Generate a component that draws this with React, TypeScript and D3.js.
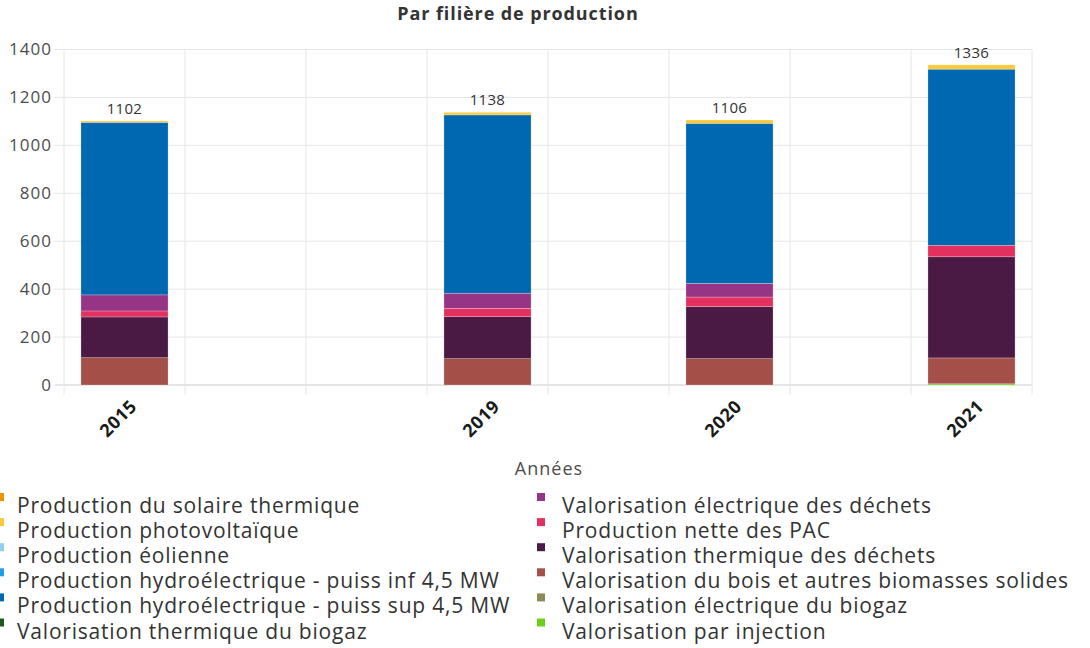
import React from "react";
import * as d3 from "d3";

// Catégories (certaines colonnes sont vides dans l'original)
const categories = ["2015", "", "", "2019", "", "2020", "", "2021"];

// Séries, dans l'ordre de la légende (la première est en haut de la pile)
const seriesNames = [
  "Production du solaire thermique",
  "Production photovoltaïque",
  "Production éolienne",
  "Production hydroélectrique - puiss inf 4,5 MW",
  "Production hydroélectrique - puiss sup 4,5 MW",
  "Valorisation thermique du biogaz",
  "Valorisation électrique des déchets",
  "Production nette des PAC",
  "Valorisation thermique des déchets",
  "Valorisation du bois et autres biomasses solides",
  "Valorisation électrique du biogaz",
  "Valorisation par injection",
];

const seriesColors = [
  "#f39200",
  "#fcc93a",
  "#8fd0f0",
  "#1e9fe8",
  "#0068b0",
  "#1b5a1c",
  "#963585",
  "#e3305f",
  "#4a1a45",
  "#a44f48",
  "#8d8a5a",
  "#6ccf1a",
];

const solaireThermique = [0, 0, 0, 0, 0, 0, 0, 0];
const photovoltaique = [6, 0, 0, 11, 0, 14, 0, 18];
const eolien = [0, 0, 0, 0, 0, 0, 0, 0];
const hydroInf = [0, 0, 0, 0, 0, 0, 0, 0];
const hydroSup = [720, 0, 0, 744, 0, 668, 0, 735];
const thermBiogaz = [0, 0, 0, 0, 0, 0, 0, 0];
const elecDechets = [67, 0, 0, 63, 0, 57, 0, 0];
const pac = [25, 0, 0, 35, 0, 40, 0, 48];
const thermDechets = [170, 0, 0, 175, 0, 217, 0, 422];
const bois = [114, 0, 0, 110, 0, 110, 0, 108];
const elecBiogaz = [0, 0, 0, 0, 0, 0, 0, 0];
const injection = [0, 0, 0, 0, 0, 0, 0, 5];

const seriesValues = [
  solaireThermique,
  photovoltaique,
  eolien,
  hydroInf,
  hydroSup,
  thermBiogaz,
  elecDechets,
  pac,
  thermDechets,
  bois,
  elecBiogaz,
  injection,
];

const yTicks = [0, 200, 400, 600, 800, 1000, 1200, 1400];

const W = 1090;
const H = 648;
const FONT = "'Open Sans', sans-serif";

export default function App() {
  const left = 64;
  const right = 1032;
  const top = 49.5;
  const bottom = 385;

  const x = d3
    .scaleBand<number>()
    .domain(d3.range(categories.length))
    .range([left, right])
    .paddingInner(0.28)
    .paddingOuter(0.14);
  const step = x.step();

  const y = d3.scaleLinear().domain([0, 1400]).range([bottom, top]);

  // table pour d3.stack : une ligne par catégorie
  const rows = categories.map((c, i) => {
    const r: Record<string, number> = { idx: i };
    seriesNames.forEach((n, s) => (r[n] = seriesValues[s][i]));
    return r;
  });
  const keys = seriesNames.slice().reverse();
  const stacked = d3.stack<Record<string, number>>().keys(keys)(rows);
  const totals = categories.map((c, i) => d3.sum(seriesValues, (v) => v[i]));

  const boundaries = d3.range(categories.length + 1).map((i) => left + i * step);

  return (
    <svg
      width={W}
      height={H}
      style={{ position: "absolute", left: 0, top: 0, background: "#fff" }}
      fontFamily={FONT}
    >
      <text x={518} y={20} textAnchor="middle" fontSize={18} letterSpacing={0.9} fontWeight="bold" fill="#333">
        Par filière de production
      </text>

      {/* grille horizontale */}
      {yTicks.map((t) => (
        <g key={t}>
          <line x1={55} x2={right} y1={y(t)} y2={y(t)} stroke={t === 0 ? "#ccc" : "#e6e6e6"} strokeWidth={1} />
          <text x={52} y={y(t)} dy="0.35em" textAnchor="end" fontSize={17} letterSpacing={1} fill="#4d4d4d">
            {t}
          </text>
        </g>
      ))}

      {/* grille verticale */}
      {boundaries.map((bx, i) => (
        <line key={i} x1={bx} x2={bx} y1={top} y2={bottom + 10} stroke="#e6e6e6" strokeWidth={1} />
      ))}

      {/* barres empilées */}
      {stacked.map((layer) => {
        const color = seriesColors[seriesNames.indexOf(layer.key)];
        return (
          <g key={layer.key} fill={color}>
            {layer.map((d, i) =>
              d[1] - d[0] > 0 ? (
                <rect
                  key={i}
                  x={x(i)}
                  width={x.bandwidth()}
                  y={y(d[1])}
                  height={y(d[0]) - y(d[1])}
                  stroke="#fff"
                  strokeOpacity={0.4}
                  strokeWidth={0.6}
                />
              ) : null
            )}
          </g>
        );
      })}

      {/* totaux */}
      {totals.map((t, i) =>
        t > 0 ? (
          <text
            key={i}
            x={(x(i) as number) + x.bandwidth() / 2}
            y={y(t) - 7}
            textAnchor="middle"
            fontSize={15}
            letterSpacing={0.3}
            fill="#333"
          >
            {t}
          </text>
        ) : null
      )}

      {/* étiquettes x */}
      {categories.map((c, i) =>
        c ? (
          <text
            key={i}
            transform={`translate(${(x(i) as number) + x.bandwidth() / 2 + 9},${bottom + 18}) rotate(-45)`}
            textAnchor="end"
            dy="0.35em"
            fontSize={18}
            letterSpacing={0.6}
            fontWeight="bold"
            fill="#1a1a1a"
          >
            {c}
          </text>
        ) : null
      )}

      <text x={549} y={475} textAnchor="middle" fontSize={18} letterSpacing={1} fill="#4d4d4d">
        Années
      </text>

      {/* légende */}
      {seriesNames.map((n, s) => {
        const col = s < 6 ? 0 : 1;
        const row = s % 6;
        const sx = col === 0 ? -4 : 537;
        const tx = col === 0 ? 17 : 562;
        const base = 513 + row * 25.1;
        return (
          <g key={n}>
            <rect x={sx} y={base - 20} width={8} height={8} fill={seriesColors[s]} />
            <text x={tx} y={base} fontSize={21} letterSpacing={0.8} fill="#333">
              {n}
            </text>
          </g>
        );
      })}
    </svg>
  );
}
